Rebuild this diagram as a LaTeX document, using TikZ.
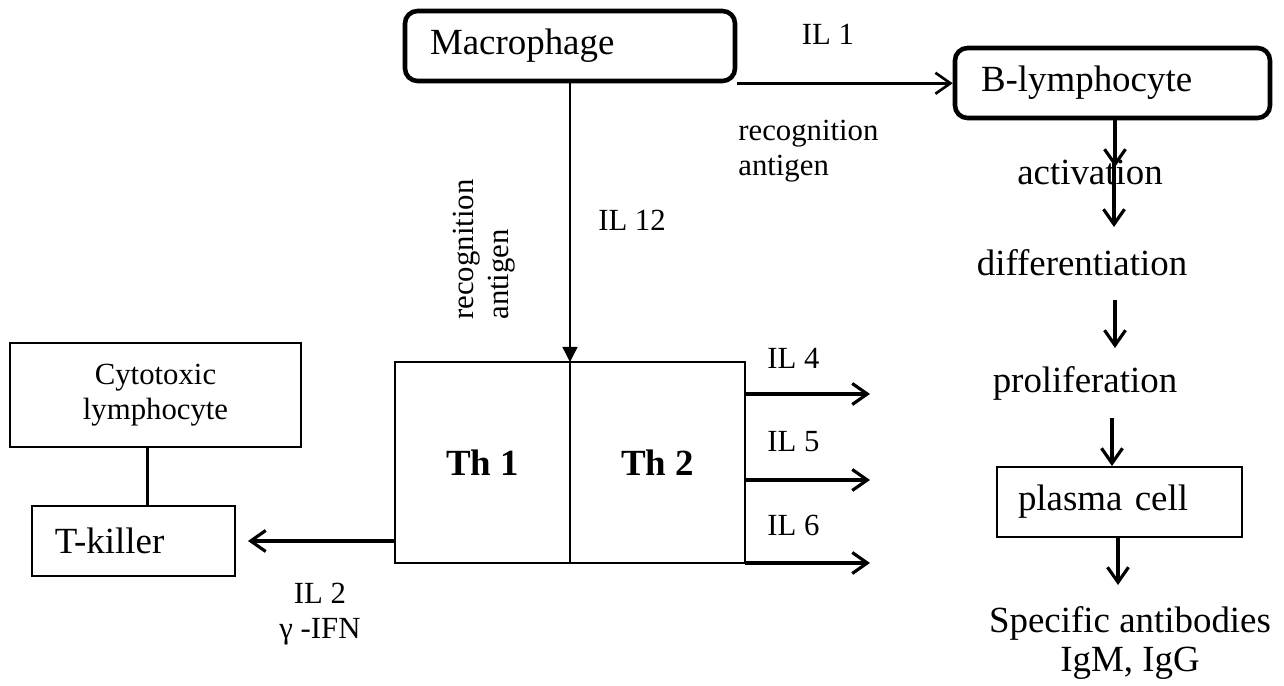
\documentclass[tikz,border=0pt]{standalone}
\usepackage{fontspec}
\setmainfont{Liberation Serif}
\usetikzlibrary{arrows.meta, positioning, calc}

\newcommand{\txtbig}{\fontsize{21}{24}\selectfont}
\newcommand{\txtsmall}{\fontsize{17.5}{20}\selectfont}

\begin{document}
\begin{tikzpicture}[
    roundbox/.style={draw, line width=2.6pt, rounded corners=0.25cm, minimum height=1.4cm, align=left, inner xsep=0.5cm, font=\txtbig},
    cellbox/.style={draw, line width=1.1pt, minimum height=1.4cm, align=left, font=\txtbig},
    thbox/.style={draw, line width=0.8pt, outer sep=0pt, minimum width=3.5cm, minimum height=4.02cm, font=\txtbig\bfseries},
    lbl/.style={inner sep=0pt, font=\txtsmall},
    stage/.style={inner sep=0pt, font=\txtbig},
    arr/.style={-{Straight Barb[length=0.3cm, width=0.42cm]}, line width=1.8pt}
  ]
  \useasboundingbox (0,0) rectangle (25.68,13.72);

  % cells
  \node[roundbox, text width=5.6cm] (mac) at (11.4,12.8) {Macrophage};
  \node[roundbox, text width=5.26cm, inner xsep=0.52cm] (blym) at (22.25,12.06) {B-lymphocyte};
  \node[thbox] (th1) at (9.65,4.47) {Th 1};
  \node[thbox, right=0pt of th1] (th2) {Th 2};
  \node[cellbox, minimum width=5.82cm, minimum height=2.08cm, align=center, font=\txtsmall] (cyto) at (3.11,5.82) {Cytotoxic\\lymphocyte};
  \node[cellbox, text width=3.14cm, inner xsep=0.46cm] (tk) at (2.67,2.9) {T-killer};
  \node[cellbox, text width=4.06cm, inner xsep=0.42cm] (plasma) at (22.39,3.68) {plasma cell};

  % B-cell stages
  \node[stage] (act) at (21.8,10.28) {activation};
  \node[stage] (diff) at (21.64,8.46) {differentiation};
  \node[stage] (prol) at (21.7,6.06) {proliferation};
  \node[stage, align=center, font=\fontsize{21}{22.7}\selectfont] (ab) at (22.6,0.86) {Specific antibodies\\IgM, IgG};

  % labels
  \node[lbl] (il1) at (16.56,13.04) {IL 1};
  \node[lbl, anchor=west, align=left] (recog) at (14.76,10.69) {recognition\\antigen};
  \node[lbl, rotate=90, anchor=west, align=left] (recogv) at (9.68,7.32) {recognition\\antigen};
  \node[lbl] (il12) at (12.64,9.32) {IL 12};
  \node[lbl, anchor=west] (il4) at (15.34,6.56) {IL 4};
  \node[lbl, anchor=west] (il5) at (15.34,4.88) {IL 5};
  \node[lbl, anchor=west] (il6) at (15.34,3.22) {IL 6};
  \node[lbl, align=center] (il2) at (6.4,1.43) {IL 2\\γ -IFN};

  \coordinate (il4end) at (17.4,5.84);
  \coordinate (il5end) at (17.4,4.12);
  \coordinate (il6end) at (17.4,2.46);
  \coordinate (acttip) at (22.3,10.38);
  \coordinate (acta) at (22.28,10.46);
  \coordinate (actb) at (22.28,9.18);
  \coordinate (diffa) at (22.3,7.72);
  \coordinate (diffb) at (22.3,6.76);
  \coordinate (prola) at (22.24,5.36);
  \coordinate (abtip) at (22.36,2.02);

  % connectors
  \draw[-{Triangle[length=0.3cm, width=0.3cm]}, line width=0.8pt] (mac.south) -- (th1.north east);
  \draw[arr, line width=1.5pt] (mac.south east) -- (mac.south east -| blym.west);
  \draw[arr] (th2.east |- il4end) -- (il4end);
  \draw[arr] (th2.east |- il5end) -- (il5end);
  \draw[arr] (th2.east |- il6end) -- (il6end);
  \draw[arr, shorten >=0.24cm] (th1.west |- tk.east) -- (tk.east);
  \draw[line width=2.2pt] ([xshift=-0.16cm]cyto.south) -- ([xshift=-0.16cm]cyto.south |- tk.north);

  \draw[arr] (blym.south -| acttip) -- (acttip);
  \draw[arr] (acta) -- (actb);
  \draw[arr] (diffa) -- (diffb);
  \draw[arr] (prola) -- (prola |- plasma.north);
  \draw[arr] (plasma.south -| abtip) -- (abtip);
\end{tikzpicture}
\end{document}
